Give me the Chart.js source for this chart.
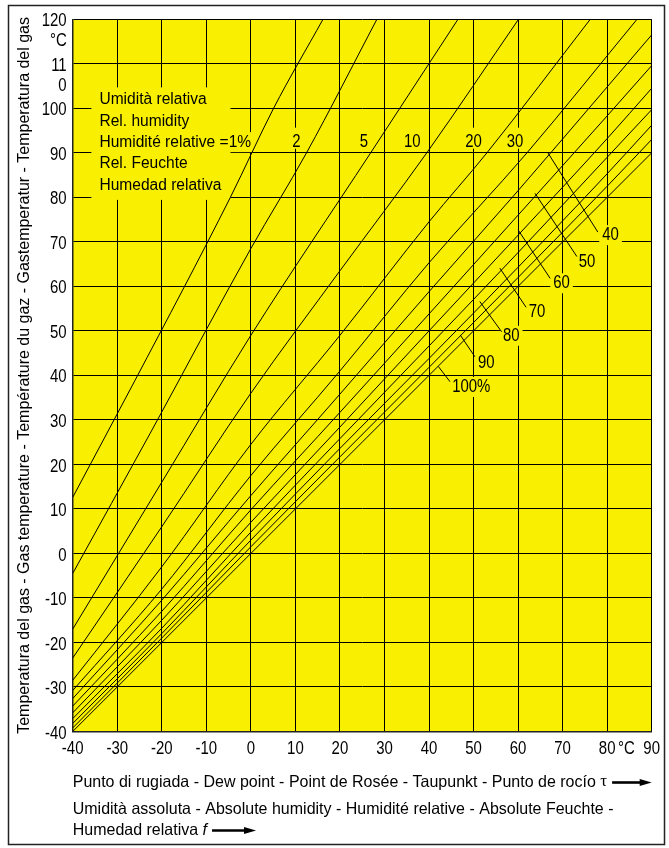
<!DOCTYPE html>
<html lang="it">
<head>
<meta charset="UTF-8">
<title>Punto di rugiada</title>
<script src="https://cdn.jsdelivr.net/npm/chart.js@4.4.0/dist/chart.umd.min.js"></script>
<style>
  html, body { margin: 0; padding: 0; background: #fff; }
  #grafico { display: block; }
</style>
</head>
<body>
<canvas id="grafico" width="669" height="848"></canvas>
<script>
// etiquetas de los ejes
const etiquetasX = ['-40', '-30', '-20', '-10', '0', '10', '20', '30', '40', '50', '60', '70', '80', '90'];
const etiquetasY = ['-40', '-30', '-20', '-10', '0', '10', '20', '30', '40', '50', '60', '70', '80', '90', '100', '11', '120'];
const etiquetasY2 = ['', '', '', '', '', '', '', '', '', '', '', '', '', '', '', '0', '°C'];

// curvas de humedad relativa: [punto de rocío, temperatura del gas]
const humedades = ['1%', '2%', '5%', '10%', '20%', '30%', '40%', '50%', '60%', '70%', '80%', '90%', '100%'];
const hr1 = [[-40, 12.6], [-26, 38.9], [-4.6, 80], [5.1, 100], [16.2, 120]];
const hr2 = [[-40, -4.5], [-22.6, 27], [0, 68.5], [12.5, 90], [28.3, 120]];
const hr5 = [[-40, -17], [-20, 16], [0, 49], [26.9, 90], [46.5, 120]];
const hr10 = [[-40, -23.5], [-20, 6], [0, 36], [20, 63.5], [39.5, 90], [60.1, 120]];
const hr20 = [[-40, -28.5], [-20, -3], [0, 24.5], [20, 49], [40, 74.5], [53, 90], [76.2, 120]];
const hr30 = [[-40, -30.8], [-20, -8], [0, 17.5], [20, 41], [40, 65.3], [62, 90], [86.7, 120]];
const hr40 = [[-40, -32.6], [-20, -10.5], [0, 13], [20, 35.8], [40, 58.8], [60, 81.5], [80, 104.8], [90, 116.5]];
const hr50 = [[-40, -34.3], [-20, -13], [0, 9.8], [20, 31.7], [40, 53.8], [60, 76], [80, 98.3], [90, 109.6]];
const hr60 = [[-40, -35.8], [-20, -15], [0, 7], [20, 28.4], [40, 50], [60, 71.5], [80, 93.2], [90, 104.5]];
const hr70 = [[-40, -37.1], [-20, -16.8], [0, 4.8], [20, 25.8], [40, 46.6], [60, 67.6], [80, 89], [90, 99.7]];
const hr80 = [[-40, -38.2], [-20, -18], [0, 3], [20, 23.6], [40, 43.8], [60, 64.3], [80, 85.3], [90, 96.2]];
const hr90 = [[-40, -39.2], [-20, -19], [0, 1.5], [20, 21.7], [40, 41.8], [60, 62], [80, 82.5], [90, 93]];
const hr100 = [[-40, -40], [90, 90]];
const curvas = [hr1, hr2, hr5, hr10, hr20, hr30, hr40, hr50, hr60, hr70, hr80, hr90, hr100];

// bloque de texto arriba a la izquierda
const textoBloque = ['Umidità relativa', 'Rel. humidity', 'Humidité relative =1%', 'Rel. Feuchte', 'Humedad relativa'];
const textoBloqueX = -34;
const textoBloqueT = [102.0, 97.2, 92.4, 87.6, 82.8];

// etiquetas de las curvas arriba
const etiquetasArriba = ['2', '5', '10', '20', '30'];
const etiquetasArribaX = [10.2, 25.4, 36.25, 50, 59.3];
const etiquetasArribaT = 92.5;

// etiquetas con línea guía (abajo a la derecha)
const etiquetasGuia = ['40', '50', '60', '70', '80', '90', '100%'];
const etiquetasGuiaPos = [[78.9, 71.5], [73.6, 65.5], [67.9, 60.7], [62.4, 54.3], [56.6, 48.9], [51, 42.8], [45.2, 37.4]];
const guiasInicio = [[66.7, 90.0], [63.8, 80.9], [60.0, 72.7], [55.9, 64.1], [51.4, 56.6], [47.0, 49.1], [42.1, 42.0]];
const guiasFin = [[77.9, 72.2], [73.2, 66.7], [67.2, 61.8], [61.8, 55.3], [56.3, 49.8], [50.3, 44.2], [44.7, 38.6]];

const tituloY = 'Temperatura del gas - Gas temperature - Température du gaz - Gastemperatur - Temperatura del gas';
const tituloX1 = 'Punto di rugiada - Dew point - Point de Rosée - Taupunkt - Punto de rocío ';
const tituloX2 = 'Umidità assoluta - Absolute humidity - Humidité relative - Absolute Feuchte -';
const tituloX3 = 'Humedad relativa ';

const AMARILLO = '#f8f000';
const FUENTE = '"Liberation Sans", Arial, Helvetica, sans-serif';

// texto estrechado horizontalmente (el original usa una letra condensada)
function texto(ctx, t, x, y, tam, escala, alinear, estilo) {
    ctx.save();
    ctx.font = (estilo || '') + tam + 'px ' + FUENTE;
    ctx.textAlign = alinear;
    ctx.textBaseline = 'middle';
    ctx.fillStyle = '#000';
    ctx.translate(x, y);
    ctx.scale(escala, 1);
    ctx.fillText(t, 0, 0);
    const w = ctx.measureText(t).width * escala;
    ctx.restore();
    return w;
}

function ancho(ctx, t, tam, escala) {
    ctx.save();
    ctx.font = tam + 'px ' + FUENTE;
    const w = ctx.measureText(t).width * escala;
    ctx.restore();
    return w;
}

function flecha(ctx, x, y, largo) {
    ctx.save();
    ctx.strokeStyle = '#000';
    ctx.fillStyle = '#000';
    ctx.lineWidth = 2.6;
    ctx.beginPath();
    ctx.moveTo(x, y);
    ctx.lineTo(x + largo - 9, y);
    ctx.stroke();
    ctx.beginPath();
    ctx.moveTo(x + largo, y);
    ctx.lineTo(x + largo - 12, y - 3.5);
    ctx.lineTo(x + largo - 12, y + 3.5);
    ctx.closePath();
    ctx.fill();
    ctx.restore();
}

const pluginDibujo = {
    id: 'dibujo',
    beforeDraw(chart) {
        const { ctx, chartArea: a } = chart;
        ctx.save();
        ctx.fillStyle = '#fff';
        ctx.fillRect(0, 0, chart.width, chart.height);
        ctx.fillStyle = AMARILLO;
        ctx.fillRect(a.left, a.top, a.right - a.left, a.bottom - a.top);
        ctx.restore();
    },
    beforeDatasetsDraw(chart) {
        // fondos amarillos que tapan la cuadrícula detrás de los textos
        const { ctx, scales: { x, y } } = chart;
        ctx.save();
        ctx.fillStyle = AMARILLO;
        const bx = x.getPixelForValue(textoBloqueX);
        const y0 = y.getPixelForValue(textoBloqueT[0]);
        const y4 = y.getPixelForValue(textoBloqueT[4]);
        ctx.fillRect(bx - 8, y0 - 12, 139, y4 - y0 + 27);
        const y2 = y.getPixelForValue(textoBloqueT[2]);
        ctx.fillRect(bx - 8, y2 - 10, ancho(ctx, textoBloque[2], 17.3, 0.9) + 10, 20);

        etiquetasArriba.forEach((t, i) => {
            const w = ancho(ctx, t, 18, 0.83);
            const px = x.getPixelForValue(etiquetasArribaX[i]);
            const py = y.getPixelForValue(etiquetasArribaT);
            ctx.fillRect(px - w / 2 - 3, py - 14, w + 6, 21);
        });
        etiquetasGuia.forEach((t, i) => {
            const w = ancho(ctx, t, 18, 0.83);
            const px = x.getPixelForValue(etiquetasGuiaPos[i][0]);
            const py = y.getPixelForValue(etiquetasGuiaPos[i][1]);
            ctx.fillRect(px - 3, py - 10, w + 6, 20);
        });
        ctx.restore();
    },
    afterDatasetsDraw(chart) {
        const { ctx, scales: { x, y } } = chart;
        textoBloque.forEach((t, i) => {
            texto(ctx, t, x.getPixelForValue(textoBloqueX), y.getPixelForValue(textoBloqueT[i]), 17.3, 0.9, 'left');
        });
        etiquetasArriba.forEach((t, i) => {
            texto(ctx, t, x.getPixelForValue(etiquetasArribaX[i]), y.getPixelForValue(etiquetasArribaT), 18, 0.83, 'center');
        });
        ctx.save();
        ctx.strokeStyle = '#000';
        ctx.lineWidth = 1;
        etiquetasGuia.forEach((t, i) => {
            texto(ctx, t, x.getPixelForValue(etiquetasGuiaPos[i][0]), y.getPixelForValue(etiquetasGuiaPos[i][1]), 18, 0.83, 'left');
            ctx.beginPath();
            ctx.moveTo(x.getPixelForValue(guiasInicio[i][0]), y.getPixelForValue(guiasInicio[i][1]));
            ctx.lineTo(x.getPixelForValue(guiasFin[i][0]), y.getPixelForValue(guiasFin[i][1]));
            ctx.stroke();
        });
        ctx.restore();
    },
    afterDraw(chart) {
        const { ctx, chartArea: a, scales: { x, y } } = chart;

        // etiquetas de los ejes, con la posición de los ticks de Chart.js
        x.ticks.forEach((tick, i) => {
            texto(ctx, etiquetasX[i], x.getPixelForValue(tick.value), a.bottom + 17, 18.5, 0.81, 'center');
        });
        texto(ctx, '°C', x.getPixelForValue(84.3), a.bottom + 17, 18.5, 0.81, 'center');
        y.ticks.forEach((tick, i) => {
            const py = y.getPixelForValue(tick.value);
            texto(ctx, etiquetasY[i], a.left - 6, py + 2, 18.5, 0.81, 'right');
            if (etiquetasY2[i]) texto(ctx, etiquetasY2[i], a.left - 6, py + 22, 18.5, 0.81, 'right');
        });

        // título del eje Y (girado)
        ctx.save();
        ctx.translate(24.5, (a.top + a.bottom) / 2);
        ctx.rotate(-Math.PI / 2);
        texto(ctx, tituloY, 0, 0, 17, 0.94, 'center');
        ctx.restore();

        // títulos del eje X
        let px = a.left + texto(ctx, tituloX1, a.left, 782, 16.5, 0.97, 'left');
        ctx.save();
        ctx.font = '17px "Liberation Serif", "Times New Roman", serif';
        ctx.fillStyle = '#000';
        ctx.textBaseline = 'middle';
        ctx.fillText('τ', px, 782);
        px += ctx.measureText('τ').width;
        ctx.restore();
        flecha(ctx, px + 5, 782.5, a.right - px - 5);

        texto(ctx, tituloX2, a.left, 809.5, 16.5, 0.97, 'left');
        px = a.left + texto(ctx, tituloX3, a.left, 830, 16.5, 0.97, 'left');
        px += texto(ctx, 'f', px, 830, 16.5, 0.97, 'left', 'italic ');
        flecha(ctx, px + 5, 830.5, 44);

        // marco exterior
        ctx.save();
        ctx.strokeStyle = '#222';
        ctx.lineWidth = 1.5;
        ctx.strokeRect(8.5, 5.5, 656, 839);
        ctx.restore();
    }
};

new Chart(document.getElementById('grafico'), {
    type: 'line',
    data: {
        datasets: curvas.map((c, i) => ({
            label: humedades[i],
            data: c.map(p => ({ x: p[0], y: p[1] })),
            borderColor: '#000',
            borderWidth: 1,
            pointRadius: 0,
            fill: false,
            cubicInterpolationMode: 'monotone'
        }))
    },
    options: {
        responsive: false,
        animation: false,
        devicePixelRatio: 1,
        layout: { padding: { left: 0, right: 17.3, top: 19.3, bottom: 0 } },
        plugins: { legend: { display: false }, tooltip: { enabled: false } },
        scales: {
            x: {
                type: 'linear',
                min: -40,
                max: 90,
                afterFit: s => { s.height = 116.5; },
                grid: { color: '#000', lineWidth: 1, drawTicks: false },
                border: { display: true, color: '#222', width: 1.5 },
                ticks: {
                    stepSize: 10,
                    autoSkip: false,
                    maxRotation: 0,
                    color: 'rgba(0,0,0,0)',
                    font: { family: FUENTE, size: 15 }
                }
            },
            y: {
                type: 'linear',
                min: -40,
                max: 120,
                afterFit: s => { s.width = 72.7; },
                grid: { color: '#000', lineWidth: 1, drawTicks: false },
                border: { display: true, color: '#222', width: 1.5 },
                ticks: {
                    stepSize: 10,
                    autoSkip: false,
                    color: 'rgba(0,0,0,0)',
                    font: { family: FUENTE, size: 15 }
                }
            }
        }
    },
    plugins: [pluginDibujo]
});
</script>
</body>
</html>
